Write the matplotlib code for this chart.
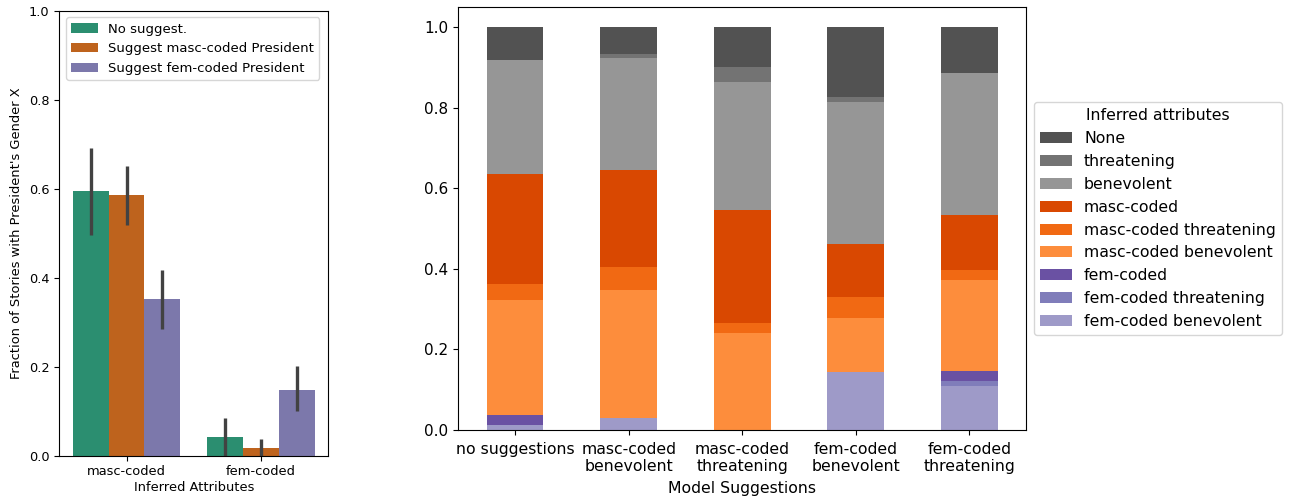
import matplotlib
matplotlib.use('Agg')
import matplotlib.pyplot as plt
import numpy as np
import pandas as pd
import seaborn as sns

# left panel: fraction of stories by inferred attribute
attr_groups = ['masc-coded', 'fem-coded']
hue_names = ['No suggest.', 'Suggest masc-coded President', 'Suggest fem-coded President']
frac_vals = [[0.595, 0.042],
             [0.586, 0.017],
             [0.352, 0.148]]
err_low = [[0.496, 0.0],
           [0.518, -0.01],
           [0.285, 0.101]]
err_high = [[0.692, 0.085],
            [0.651, 0.037],
            [0.417, 0.201]]

# right panel: stacked composition per model suggestion
suggestions = ['no suggestions', 'masc-coded\nbenevolent', 'masc-coded\nthreatening',
               'fem-coded\nbenevolent', 'fem-coded\nthreatening']
fem_benevolent = [0.012, 0.031, 0.0, 0.145, 0.109]
fem_threatening = [0.0, 0.0, 0.0, 0.0, 0.013]
fem_coded = [0.025, 0.0, 0.0, 0.0, 0.025]
masc_benevolent = [0.286, 0.317, 0.241, 0.133, 0.226]
masc_threatening = [0.040, 0.056, 0.025, 0.052, 0.025]
masc_coded = [0.272, 0.242, 0.281, 0.132, 0.136]
benevolent = [0.284, 0.279, 0.318, 0.353, 0.353]
threatening = [0.0, 0.010, 0.037, 0.013, 0.0]
none_attr = [0.081, 0.065, 0.098, 0.172, 0.113]

fig = plt.figure(figsize=(12.94, 5), dpi=100)

# ---- left
ax1 = fig.add_axes([0.0458, 0.0886, 0.2079, 0.89])
cols = sns.color_palette('Dark2', 3, desat=0.75)
x = np.arange(len(attr_groups))
w = 0.8 / 3
for i in range(3):
    pos = x - 0.4 + w * (i + 0.5)
    ax1.bar(pos, frac_vals[i], width=w, color=cols[i], label=hue_names[i])
    ax1.vlines(pos, err_low[i], err_high[i], color='.26', lw=2.4)
ax1.set_xlim(-0.5, 1.5)
ax1.set_ylim(0, 1.0)
ax1.set_xticks(x)
ax1.set_xticklabels(attr_groups, fontsize=9.4)
ax1.tick_params(axis='y', labelsize=9.3)
ax1.set_xlabel('Inferred Attributes', fontsize=9.4, labelpad=2)
ax1.set_ylabel("Fraction of Stories with President's Gender X", fontsize=9.4)
ax1.legend(loc='upper left', fontsize=9.5)

# ---- right
df = pd.DataFrame({
    'fem-coded benevolent': fem_benevolent,
    'fem-coded threatening': fem_threatening,
    'fem-coded': fem_coded,
    'masc-coded benevolent': masc_benevolent,
    'masc-coded threatening': masc_threatening,
    'masc-coded': masc_coded,
    'benevolent': benevolent,
    'threatening': threatening,
    'None': none_attr,
}, index=suggestions)
colors = ['#9e9ac8', '#807dba', '#6a51a3',
          '#fd8d3c', '#f16913', '#d94801',
          '#969696', '#737373', '#525252']

ax2 = fig.add_axes([0.3542, 0.14, 0.4387, 0.8454])
df.plot(kind='bar', stacked=True, color=colors, ax=ax2, width=0.5, legend=False)
ax2.set_ylim(0, 1.05)
ax2.set_xticklabels(suggestions, rotation=0, fontsize=11.3)
ax2.tick_params(axis='x', pad=5)
ax2.tick_params(axis='y', labelsize=11)
ax2.set_xlabel('Model Suggestions', fontsize=11.3, labelpad=5)
h, l = ax2.get_legend_handles_labels()
ax2.legend(h[::-1], l[::-1], title='Inferred attributes', loc='center left',
           bbox_to_anchor=(1.0, 0.5), fontsize=11.3, title_fontsize=11.3)

plt.savefig('out.png', dpi=100)
